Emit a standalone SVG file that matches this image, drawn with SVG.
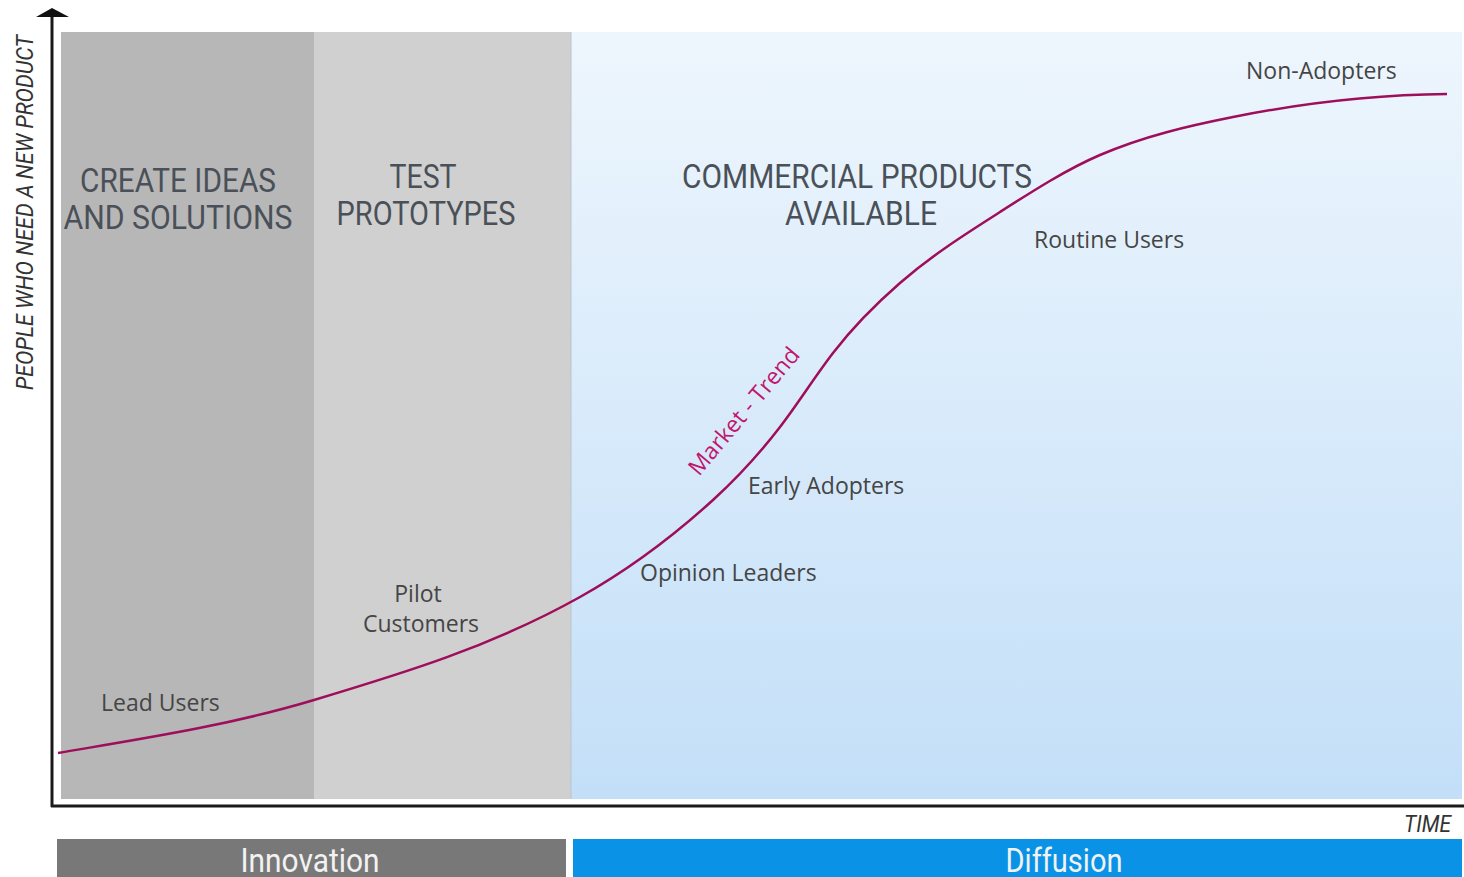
<svg xmlns="http://www.w3.org/2000/svg" width="1464" height="877" viewBox="0 0 1464 877">
<defs>
<linearGradient id="blueGrad" x1="0" y1="0" x2="0" y2="1">
<stop offset="0" stop-color="#eef6fd"/>
<stop offset="1" stop-color="#c3dff8"/>
</linearGradient>
</defs>
<style>
.hdr{font-family:Roboto,"Liberation Sans",sans-serif;font-size:33px;fill:#4a5058;}
.lbl{font-family:"Open Sans","Liberation Sans",sans-serif;font-size:23px;fill:#454545;}
.bar{font-family:Roboto,"Liberation Sans",sans-serif;font-size:33px;fill:#f2f2f2;}
.axis{font-family:Roboto,"Liberation Sans",sans-serif;font-style:italic;font-size:24px;fill:#333;}
</style>
<rect x="0" y="0" width="1464" height="877" fill="#ffffff"/>
<g id="zone-create">
<rect x="61" y="32" width="253" height="767" fill="#b7b7b7"/>
<text class="hdr" x="178" y="192" text-anchor="middle" textLength="196" lengthAdjust="spacingAndGlyphs">CREATE IDEAS</text>
<text class="hdr" x="178" y="229" text-anchor="middle" textLength="229" lengthAdjust="spacingAndGlyphs">AND SOLUTIONS</text>
</g>
<g id="zone-test">
<rect x="314" y="32" width="257" height="767" fill="#d0d0d0"/>
<text class="hdr" x="423" y="188" text-anchor="middle" textLength="67" lengthAdjust="spacingAndGlyphs">TEST</text>
<text class="hdr" x="426" y="225" text-anchor="middle" textLength="179" lengthAdjust="spacingAndGlyphs">PROTOTYPES</text>
</g>
<g id="zone-commercial">
<rect x="571" y="32" width="891" height="767" fill="url(#blueGrad)"/>
<line x1="571" y1="32" x2="571" y2="799" stroke="#b9c4cc" stroke-width="1"/>
<text class="hdr" x="857" y="188" text-anchor="middle" textLength="350" lengthAdjust="spacingAndGlyphs">COMMERCIAL PRODUCTS</text>
<text class="hdr" x="861" y="225" text-anchor="middle" textLength="152" lengthAdjust="spacingAndGlyphs">AVAILABLE</text>
</g>
<g id="connectors">
<path d="M58,753 C143.3,738.5 228.7,725.6 314,700 C402.7,673.4 491.3,646.7 580,597 C624.3,572.2 668.7,540.3 713,500 C735.3,479.7 757.7,456 780,427 C797.7,404 815.3,376 833,353 C855.3,324 877.7,302.4 900,283 C933.3,254 966.7,233.3 1000,212 C1033.3,190.7 1066.7,169.3 1100,155 C1144.3,135.9 1188.7,125.9 1233,117 C1304.3,102.7 1375.7,94.7 1447,94" fill="none" stroke="#9e0e5a" stroke-width="2.5"/>
</g>
<g id="axes">
<line x1="52" y1="14" x2="52" y2="807" stroke="#1a1a1a" stroke-width="3"/>
<line x1="51" y1="806" x2="1464" y2="806" stroke="#1a1a1a" stroke-width="3"/>
<polygon points="52,8 36,17 69,17" fill="#111"/>
<text class="axis" transform="translate(33,390) rotate(-90)" textLength="355" lengthAdjust="spacingAndGlyphs">PEOPLE WHO NEED A NEW PRODUCT</text>
<text class="axis" x="1451" y="832" text-anchor="end" font-size="22" textLength="47" lengthAdjust="spacingAndGlyphs">TIME</text>
</g>
<g id="label-market-trend">
<text transform="translate(699,477) rotate(-50)" font-family="'Open Sans','Liberation Sans',sans-serif" font-size="23" fill="#c0166e">Market - Trend</text>
</g>
<g id="label-lead-users"><text class="lbl" x="101" y="711">Lead Users</text></g>
<g id="label-pilot-customers">
<text class="lbl" x="418" y="602" text-anchor="middle">Pilot</text>
<text class="lbl" x="421" y="632" text-anchor="middle">Customers</text>
</g>
<g id="label-opinion-leaders"><text class="lbl" x="640" y="581">Opinion Leaders</text></g>
<g id="label-early-adopters"><text class="lbl" x="748" y="494">Early Adopters</text></g>
<g id="label-routine-users"><text class="lbl" x="1034" y="248">Routine Users</text></g>
<g id="label-non-adopters"><text class="lbl" x="1246" y="79">Non-Adopters</text></g>
<g id="bar-innovation">
<rect x="57" y="839" width="509" height="38" fill="#787878"/>
<text class="bar" x="310" y="872" text-anchor="middle" textLength="139" lengthAdjust="spacingAndGlyphs">Innovation</text>
</g>
<g id="bar-diffusion">
<rect x="573" y="839" width="889" height="38" fill="#0a93e6"/>
<text class="bar" x="1064" y="872" text-anchor="middle" textLength="117" lengthAdjust="spacingAndGlyphs">Diffusion</text>
</g>
</svg>
